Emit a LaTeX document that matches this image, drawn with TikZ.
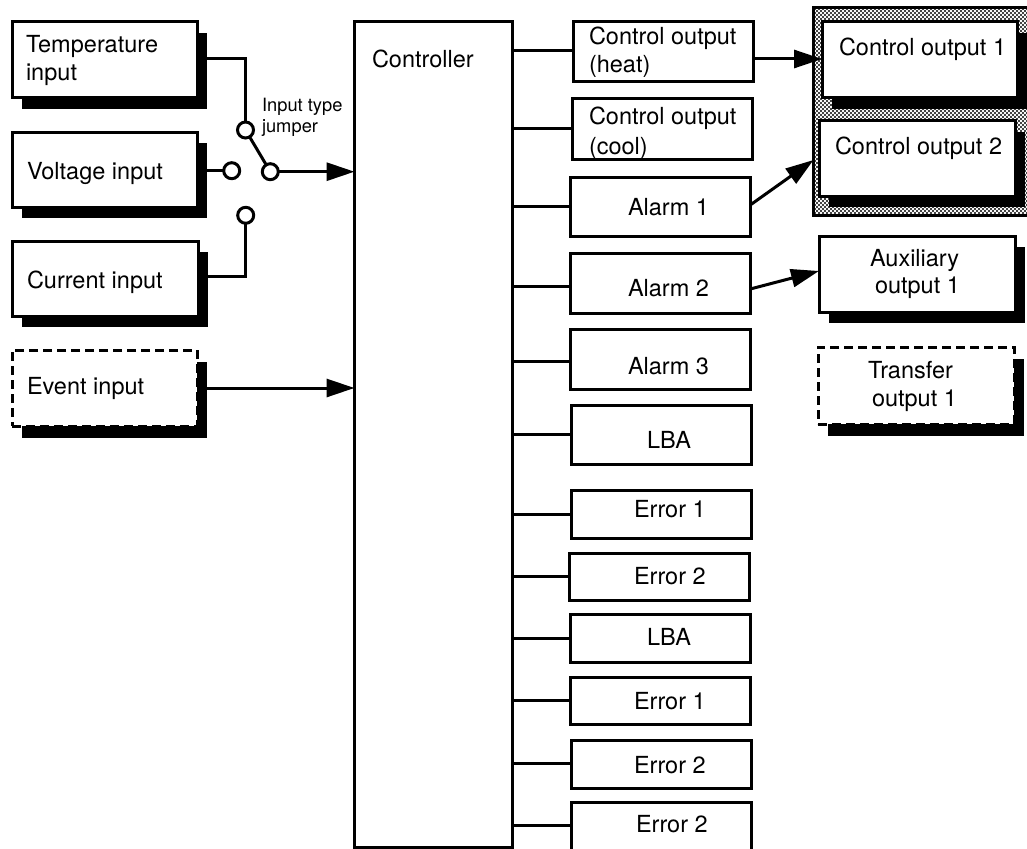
\documentclass[tikz,border=0pt]{standalone}
\usepackage{fontspec}
\setmainfont{TeX Gyre Heros}
\usetikzlibrary{arrows.meta, patterns, shadows}
\newcommand{\boxtext}[3]{\makebox[0pt][l]{\hspace*{#1pt}\raisebox{#2pt}[0pt][0pt]{#3}}}
\pgfdeclarepatternformonly{stipple}{\pgfqpoint{-1pt}{-1pt}}{\pgfqpoint{5pt}{5pt}}{\pgfqpoint{4pt}{4pt}}{%
  \pgfpathcircle{\pgfqpoint{1pt}{1pt}}{1.1pt}%
  \pgfpathcircle{\pgfqpoint{3pt}{3pt}}{1.1pt}%
  \pgfusepath{fill}}
\begin{document}
\begin{tikzpicture}[x=1pt,y=-1pt]
\useasboundingbox (0,0) rectangle (1027,848);
\tikzstyle{plainbox}=[draw,
                      rectangle,
                      fill=white,
                      line width=3pt,
                      inner sep=0pt,
                      outer sep=0pt,
                      font=\fontsize{23.5}{28}\selectfont
                      ]
\tikzstyle{shadowbox}=[plainbox,
                       general shadow={fill=black,shadow xshift=10pt,shadow yshift=-11pt}
                       ]
\tikzstyle{dashbox}=[plainbox,
                     dash pattern=on 9pt off 5pt,
                     general shadow={fill=black,shadow xshift=10pt,shadow yshift=-12pt}
                     ]
\tikzstyle{jumper}=[draw,
                    circle,
                    fill=white,
                    line width=3pt,
                    minimum size=16pt,
                    inner sep=0pt,
                    outer sep=0pt
                    ]
\tikzstyle{conn}=[line width=3pt]
\tikzstyle{arrow}=[line width=3pt,-{Triangle[length=28pt,width=18pt]}]
% stippled panel behind the first two outputs
\node[draw,rectangle,line width=3pt,inner sep=0pt,outer sep=0pt,pattern=stipple,minimum width=219.5pt,minimum height=207.5pt] (panel) at (923.25,111.25) {};
% inputs
\node[shadowbox,minimum width=185pt,minimum height=76pt] (tempin) at (104.5,60) {\boxtext{-78.5}{7}{Temperature}\boxtext{-78.5}{-21}{input}};
\node[shadowbox,minimum width=185pt,minimum height=75pt] (voltin) at (104.5,169.5) {\boxtext{-77.5}{-9.5}{Voltage input}};
\node[shadowbox,minimum width=186pt,minimum height=75pt] (currin) at (105,278.5) {\boxtext{-78}{-9.5}{Current input}};
\node[dashbox,minimum width=185pt,minimum height=76pt] (eventin) at (104.5,388) {\boxtext{-77.5}{-6}{Event input}};
% jumper
\node[jumper] (jtemp) at (245.5,130) {};
\node[jumper] (jvolt) at (231.7,170.7) {};
\node[jumper] (jcomm) at (270.3,171.7) {};
\node[jumper] (jcurr) at (245.7,215.3) {};
\node[inner sep=0pt,font=\fontsize{18.3}{21}\selectfont] (jlabel) at (262,111) {\boxtext{0}{0}{Input type}\boxtext{0}{-21}{jumper}};
% controller
\node[plainbox,minimum width=157.5pt,minimum height=825pt] (ctrl) at (433.25,434.5) {\boxtext{-61.25}{367.5}{Controller}};
% outputs of the controller
\node[plainbox,minimum width=180pt,minimum height=60pt] (heat) at (663,52) {\boxtext{-74}{7}{Control output}\boxtext{-74}{-21}{(heat)}};
\node[plainbox,minimum width=180pt,minimum height=60pt] (cool) at (662,129) {\boxtext{-73}{5}{Control output}\boxtext{-73}{-25}{(cool)}};
\node[plainbox,minimum width=179.5pt,minimum height=59pt] (alarma) at (660.5,206.5) {\boxtext{-32.5}{-8.5}{Alarm 1}};
\node[plainbox,minimum width=179.5pt,minimum height=60pt] (alarmb) at (660.5,283) {\boxtext{-32.5}{-13}{Alarm 2}};
\node[plainbox,minimum width=179.5pt,minimum height=60pt] (alarmc) at (660.5,359) {\boxtext{-32.5}{-15}{Alarm 3}};
\node[plainbox,minimum width=180pt,minimum height=59pt] (lbaa) at (661,434.5) {\boxtext{-14}{-13.5}{LBA}};
\node[plainbox,minimum width=180pt,minimum height=48pt] (erra) at (661,514) {\boxtext{-27}{-3}{Error 1}};
\node[plainbox,minimum width=180pt,minimum height=47pt] (errb) at (659.5,576.5) {\boxtext{-25.5}{-7.5}{Error 2}};
\node[plainbox,minimum width=180pt,minimum height=48pt] (lbab) at (660,638) {\boxtext{-13}{-7}{LBA}};
\node[plainbox,minimum width=180pt,minimum height=47pt] (errc) at (660,700.5) {\boxtext{-26}{-8.5}{Error 1}};
\node[plainbox,minimum width=180pt,minimum height=48pt] (errd) at (661.5,764) {\boxtext{-27.5}{-9}{Error 2}};
\node[plainbox,minimum width=180pt,minimum height=50pt] (erre) at (661.5,827) {\boxtext{-25.5}{-5}{Error 2}};
% terminals
\node[shadowbox,minimum width=195pt,minimum height=76pt] (outa) at (919.5,60) {\boxtext{-80.5}{4}{Control output 1}};
\node[shadowbox,minimum width=196pt,minimum height=75pt] (outb) at (917,158.5) {\boxtext{-82}{4.5}{Control output 2}};
\node[shadowbox,minimum width=196pt,minimum height=76pt] (aux) at (917,274) {\boxtext{-47}{8}{Auxiliary}\boxtext{-42}{-19}{output 1}};
\node[dashbox,minimum width=196pt,minimum height=77pt] (transfer) at (916,385.5) {\boxtext{-48}{7.5}{Transfer}\boxtext{-44}{-20.5}{output 1}};
% input side connectors
\draw[conn] (tempin.east |- 0,59) -| (jtemp);
\draw[conn] (voltin.east |- jvolt) -- (jvolt);
\draw[conn] (currin.east |- 0,276) -| (jcurr);
\draw[conn] (jtemp) -- (jcomm);
\draw[arrow] (jcomm) -- (ctrl.west |- jcomm);
\draw[arrow] (eventin.east) -- (ctrl.west |- eventin.east);
% output side connectors
\draw[conn] (ctrl.east |- 0,51) -- (heat.west |- 0,51);
\draw[conn] (ctrl.east |- 0,128) -- (cool.west |- 0,128);
\draw[conn] (ctrl.east |- 0,206) -- (alarma.west |- 0,206);
\draw[conn] ([xshift=2pt]ctrl.east |- 0,286) -- (alarmb.west |- 0,286);
\draw[conn] (ctrl.east |- 0,361) -- (alarmc.west |- 0,361);
\draw[conn] (ctrl.east |- 0,434) -- (lbaa.west |- 0,434);
\draw[conn] (ctrl.east |- 0,514) -- (erra.west |- 0,514);
\draw[conn] (ctrl.east |- 0,576) -- (errb.west |- 0,576);
\draw[conn] (ctrl.east |- 0,638) -- (lbab.west |- 0,638);
\draw[conn] (ctrl.east |- 0,700) -- (errc.west |- 0,700);
\draw[conn] (ctrl.east |- 0,763) -- (errd.west |- 0,763);
\draw[conn] (ctrl.east |- 0,825) -- (erre.west |- 0,825);
\draw[arrow] (heat.east |- 0,59) -- (outa.west |- 0,59);
\draw[arrow] (alarma.east |- 0,205) -- (panel.west |- 0,160);
\draw[arrow] (alarmb.east |- 0,289) -- (aux.west |- 0,271);
\end{tikzpicture}
\end{document}
